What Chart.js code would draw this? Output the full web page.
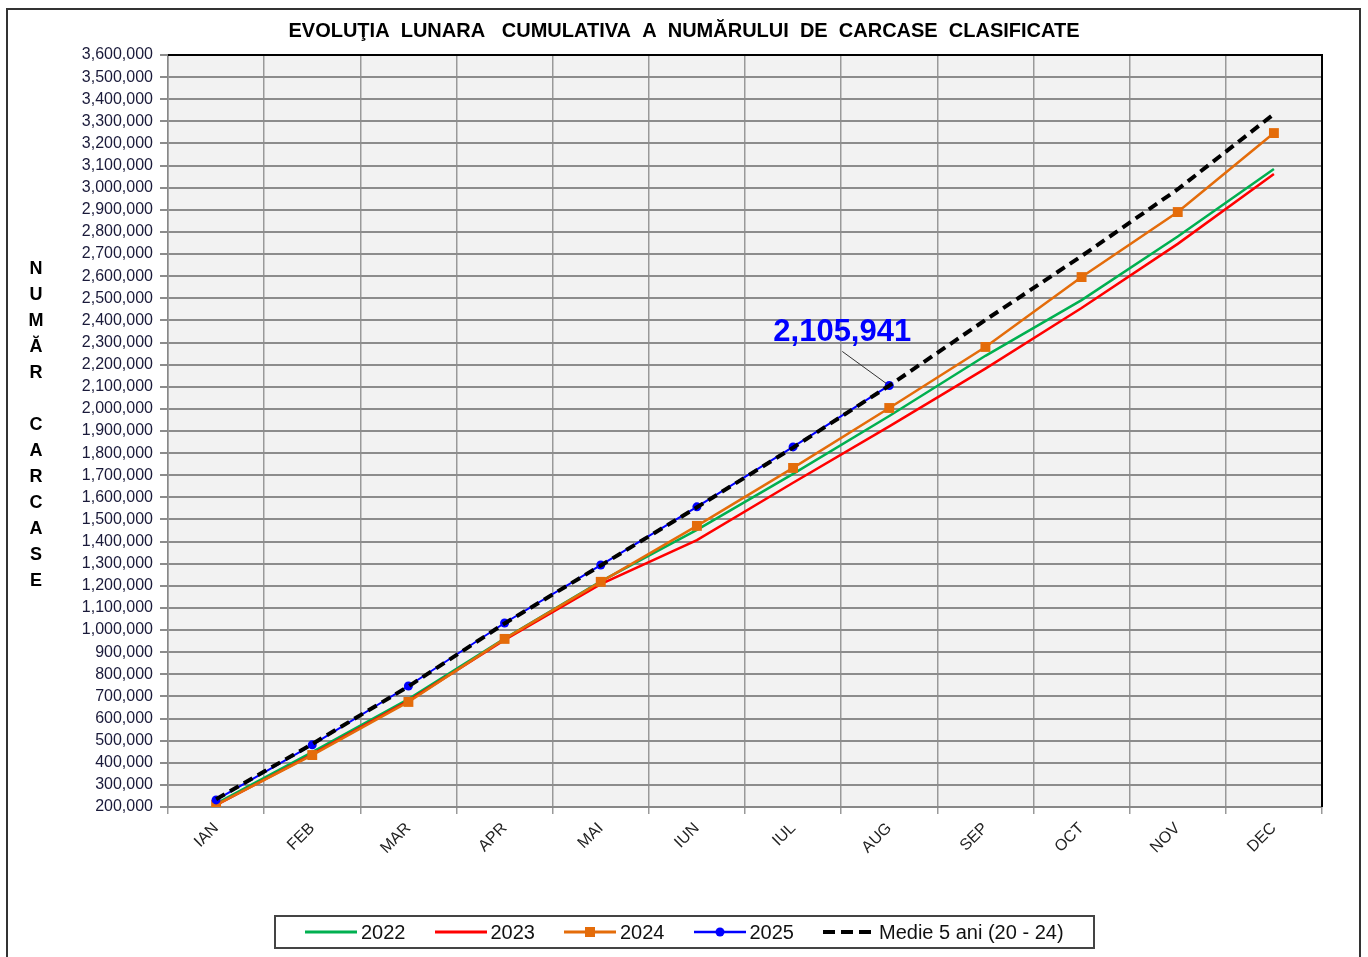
<!DOCTYPE html>
<html>
<head>
<meta charset="utf-8">
<script src="https://cdn.jsdelivr.net/npm/chart.js@4.4.1/dist/chart.umd.min.js"></script>
<style>
  html, body { margin: 0; padding: 0; background: #fff; overflow: hidden; width: 1368px; height: 957px; }
  #frame { position: absolute; left: 6px; top: 8px; width: 1355px; height: 960px; border: 2px solid #333; box-sizing: border-box; pointer-events: none; }
  #c { position: absolute; left: 0; top: 0; }
  #legend { position: absolute; left: 274px; top: 915px; width: 821px; height: 34px; border: 2px solid #444; box-sizing: border-box;
            display: flex; align-items: center; padding-left: 29px; font-family: "Liberation Sans", Arial, sans-serif; font-size: 20px; color: #111; }
  .item { display: flex; align-items: center; margin-right: 29px; white-space: pre; }
  .item svg { margin-right: 4px; }
</style>
</head>
<body>
<canvas id="c" width="1368" height="957"></canvas>
<div id="frame"></div>
<div id="legend"></div>
<script>
// ---- data ----
const months = ['IAN','FEB','MAR','APR','MAI','IUN','IUL','AUG','SEP','OCT','NOV','DEC'];
const seriesNames = ['2022','2023','2024','2025','Medie 5 ani (20 - 24)'];
const v2022 = [215000, 448000, 688000, 962000, 1220000, 1453000, 1706000, 1968000, 2240000, 2492000, 2779000, 3085000];
const v2023 = [208000, 438000, 680000, 955000, 1208000, 1407000, 1666000, 1921000, 2182000, 2456000, 2746000, 3062000];
const v2024 = [210000, 435000, 675000, 960000, 1218000, 1471000, 1733000, 2004000, 2280000, 2596000, 2890000, 3247000];
const v2025 = [232000, 481000, 747000, 1032000, 1294000, 1557000, 1828000, 2105941, null, null, null, null];
const vMedie = [235000, 485000, 745000, 1030000, 1292000, 1555000, 1825000, 2105000, 2402000, 2691000, 2993000, 3333000];
const yMin = 200000, yMax = 3600000, yStep = 100000;
const titleText = 'EVOLUŢIA  LUNARA   CUMULATIVA  A  NUMĂRULUI  DE  CARCASE  CLASIFICATE';
const yAxisTitle = ['N','U','M','Ă','R','','C','A','R','C','A','S','E'];

const colors = ['#00b050', '#ff0000', '#e46c0a', '#0000ff', '#000000'];
const FONT = '"Liberation Sans", Arial, sans-serif';
const fmt = v => Math.round(v).toLocaleString('en-US');

const decorPlugin = {
  id: 'decor',
  beforeDraw(chart) {
    const {ctx, chartArea: a} = chart;
    ctx.save();
    ctx.fillStyle = '#f2f2f2';
    ctx.fillRect(a.left, a.top, a.right - a.left, a.bottom - a.top);
    ctx.restore();
  },
  beforeDatasetsDraw(chart) {
    const {ctx, chartArea: a} = chart;
    ctx.save();
    ctx.strokeStyle = '#000';
    ctx.lineWidth = 2;
    ctx.beginPath();
    ctx.moveTo(a.left, a.top);
    ctx.lineTo(a.right, a.top);
    ctx.lineTo(a.right, a.bottom);
    ctx.stroke();
    ctx.restore();
  },
  afterDraw(chart) {
    const {ctx} = chart;
    ctx.save();
    // title
    ctx.fillStyle = '#000';
    ctx.font = 'bold 20px ' + FONT;
    ctx.textAlign = 'center';
    ctx.textBaseline = 'middle';
    ctx.fillText(titleText, chart.width / 2, 31);
    // stacked y-axis title
    ctx.font = 'bold 18px ' + FONT;
    yAxisTitle.forEach((ch, i) => ctx.fillText(ch, 36, 269 + i * 26));
    // annotation for the last 2025 value
    const meta = chart.getDatasetMeta(3);
    let idx = -1;
    v2025.forEach((v, i) => { if (v !== null) idx = i; });
    if (idx >= 0) {
      const p = meta.data[idx];
      ctx.strokeStyle = '#333';
      ctx.lineWidth = 1;
      ctx.beginPath();
      ctx.moveTo(p.x - 47, p.y - 34);
      ctx.lineTo(p.x - 3, p.y - 2);
      ctx.stroke();
      ctx.fillStyle = '#0000ff';
      ctx.font = 'bold 31px ' + FONT;
      ctx.textBaseline = 'middle';
      ctx.fillText(fmt(v2025[idx]), p.x - 47, p.y - 53);
    }
    ctx.restore();
  }
};

const mk = (i, data, extra) => Object.assign({
  label: seriesNames[i], data, borderColor: colors[i], backgroundColor: colors[i],
  borderWidth: 2.5, pointRadius: 0, tension: 0, order: 5 - i, spanGaps: false
}, extra);

new Chart(document.getElementById('c'), {
  type: 'line',
  data: {
    labels: months,
    datasets: [
      mk(0, v2022),
      mk(1, v2023),
      mk(2, v2024, {pointStyle: 'rect', pointRadius: 7, pointBorderWidth: 0}),
      mk(3, v2025, {borderWidth: 2, pointStyle: 'circle', pointRadius: 4.5, pointBorderWidth: 0}),
      mk(4, vMedie, {borderWidth: 4, borderDash: [10, 6]})
    ]
  },
  options: {
    responsive: false,
    devicePixelRatio: 1,
    animation: false,
    layout: { padding: { left: 0, right: 0, top: 55, bottom: 50 } },
    plugins: { legend: { display: false }, title: { display: false }, tooltip: { enabled: false } },
    scales: {
      x: {
        offset: true,
        grid: { offset: true, color: '#999', lineWidth: 1.5, tickLength: 7, tickColor: '#999' },
        border: { color: '#888', width: 2 },
        ticks: { maxRotation: 45, minRotation: 45, padding: 5, color: '#222', font: { family: FONT, size: 16 } },
        afterFit(s) { s.height = 100; }
      },
      y: {
        min: yMin, max: yMax,
        grid: { color: '#8c8c8c', lineWidth: 2, tickLength: 8, tickColor: '#8c8c8c' },
        border: { color: '#888', width: 1.5 },
        ticks: { stepSize: yStep, autoSkip: false, padding: 7, color: '#1a1a3a', font: { family: FONT, size: 16 }, callback: v => fmt(v) },
        afterFit(s) { s.width = 168; }
      },
      yR: {
        position: 'right', display: true,
        grid: { display: false, drawTicks: false }, border: { display: false },
        ticks: { display: false },
        afterFit(s) { s.width = 46; }
      }
    }
  },
  plugins: [decorPlugin]
});

// legend (HTML)
const legend = document.getElementById('legend');
seriesNames.forEach((name, i) => {
  const item = document.createElement('div');
  item.className = 'item';
  let marker = '';
  if (i === 2) marker = `<rect x="21" y="2" width="10" height="10" fill="${colors[i]}"/>`;
  if (i === 3) marker = `<circle cx="26" cy="7" r="4.5" fill="${colors[i]}"/>`;
  const dash = i === 4 ? 'stroke-dasharray="12,6"' : '';
  const sw = i === 4 ? 4 : (i === 3 ? 2.5 : 3);
  item.innerHTML = `<svg width="52" height="14"><line x1="0" y1="7" x2="52" y2="7" stroke="${colors[i]}" stroke-width="${sw}" ${dash}/>${marker}</svg><span>${name}</span>`;
  if (i === seriesNames.length - 1) item.style.marginRight = '0';
  legend.appendChild(item);
});
</script>
</body>
</html>
